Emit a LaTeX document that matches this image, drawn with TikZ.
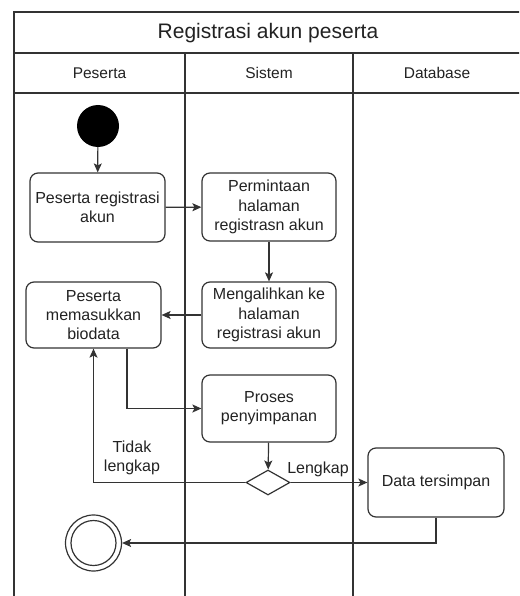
\documentclass[tikz,border=0pt]{standalone}
\usepackage{fontspec}
\setmainfont{Liberation Sans}
\usetikzlibrary{arrows.meta,shapes.geometric}
\definecolor{ink}{HTML}{333333}
\definecolor{txt}{HTML}{222222}
\tikzset{
  lane/.style={draw=ink, line width=1.3pt},
  act/.style={draw=ink, line width=1.2pt, rounded corners=8pt, fill=white,
    align=center, text=txt, font=\fontsize{16}{19.2}\selectfont, inner sep=2pt},
  arr/.style={draw=ink, line width=1.2pt, -{Stealth[length=9pt,width=8pt,inset=2pt]}},
  lbl/.style={text=txt, font=\fontsize{16}{19.2}\selectfont, align=center},
  hdr/.style={text=txt, font=\fontsize{15.5}{18}\selectfont},
}
\begin{document}
\begin{tikzpicture}[x=1pt,y=-1pt]
\useasboundingbox (0,0) rectangle (519,596);
\clip (0,0) rectangle (519,596);
% swimlane frame
\draw[lane] (14,600) -- (14,12) -- (524,12) -- (524,600);
\draw[lane] (14,53) -- (524,53);
\draw[lane] (14,93) -- (524,93);
\draw[lane] (185,53) -- (185,600);
\draw[lane] (353,53) -- (353,600);
\node[text=txt, font=\fontsize{21}{24}\selectfont] (title) at (268,33) {Registrasi akun peserta};
\node[hdr] (h1) at (99.5,73) {Peserta};
\node[hdr] (h2) at (269,73) {Sistem};
\node[hdr] (h3) at (437,73) {Database};
% activity nodes
\node[circle, fill=black, minimum size=42pt, inner sep=0] (start) at (98,126) {};
\node[act, minimum width=135pt, minimum height=69pt] (a) at (97.5,207.5) {Peserta registrasi\\akun};
\node[act, minimum width=134pt, minimum height=68pt] (b) at (269,207) {Permintaan\\halaman\\registrasn akun};
\node[act, minimum width=134pt, minimum height=66pt] (c) at (269,315) {Mengalihkan ke\\halaman\\registrasi akun};
\node[act, minimum width=135pt, minimum height=66pt] (d) at (93.5,315) {Peserta\\memasukkan\\biodata};
\node[act, minimum width=134pt, minimum height=67pt] (e) at (269,408.5) {Proses\\penyimpanan};
\node[diamond, draw=ink, line width=1.2pt, fill=white, minimum width=44pt, minimum height=25pt, inner sep=0] (dec) at (268,482.5) {};
\node[act, minimum width=136pt, minimum height=69pt] (f) at (436,482.5) {Data tersimpan};
\node[circle, draw=ink, line width=1.2pt, fill=white, minimum size=56pt, inner sep=0] (end) at (93.5,543) {};
\draw[ink, line width=1.2pt] (end.center) circle[radius=22.5];
% labels
\node[lbl] (lk) at (318,469) {Lengkap};
\node[lbl] (tl) at (132,458) {Tidak\\lengkap};
% connectors
\draw[arr] (start) -- (a);
\draw[arr] (a) -- (b);
\draw[arr] (b) -- (c);
\draw[arr] (c) -- (d);
\draw[arr] ([xshift=33.5pt]d.south) |- (e.west);
\draw[arr] (e) -- (dec);
\draw[arr] (dec) -- (f);
\draw[arr] (dec.west) -| (d.south);
\draw[arr] (f.south) |- (end.east);
\end{tikzpicture}
\end{document}
